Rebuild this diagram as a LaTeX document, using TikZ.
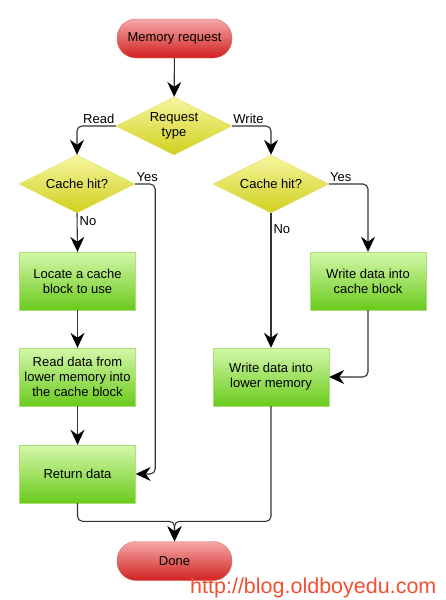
\documentclass[tikz,border=0pt]{standalone}
\usepackage{fontspec}
\setmainfont{Liberation Sans}
\usetikzlibrary{arrows.meta,shapes.geometric}

\definecolor{redtop}{RGB}{245,168,168}
\definecolor{redbot}{RGB}{210,32,32}
\definecolor{redline}{RGB}{214,110,110}
\definecolor{greentop}{RGB}{212,248,170}
\definecolor{greenbot}{RGB}{106,202,28}
\definecolor{greenline}{RGB}{170,226,120}
\definecolor{yellowtop}{RGB}{246,246,160}
\definecolor{yellowbot}{RGB}{208,208,30}
\definecolor{yellowline}{RGB}{226,226,110}
\definecolor{flowline}{RGB}{50,50,50}
\definecolor{markred}{RGB}{242,78,48}

\tikzset{
  terminal/.style={draw=redline,top color=redtop,bottom color=redbot,
    rounded corners=19pt,minimum width=115pt,minimum height=39pt,inner sep=0pt},
  process/.style={draw=greenline,top color=greentop,bottom color=greenbot,
    minimum width=116pt,minimum height=58pt,inner sep=0pt,align=center},
  decision/.style={diamond,draw=yellowline,top color=yellowtop,bottom color=yellowbot,
    minimum width=116pt,minimum height=58pt,inner sep=-6pt,aspect=2,align=center},
  flow/.style={draw=flowline,line width=1.1pt,rounded corners=5pt,
    -{Stealth[length=15pt,width=14pt,inset=5pt,black]}},
  edgelabel/.style={text=black,inner sep=2pt}
}

\begin{document}
\begin{tikzpicture}[x=1pt,y=-1pt,font=\fontsize{13}{15}\selectfont]

\useasboundingbox (0,0) rectangle (445,600);

% start and request type
\node[terminal] (req) at (174.5,38.5) {Memory request};
\node[decision] (type) at (174,126) {Request\\type};

% read side
\node[decision] (hitL) at (77,184) {Cache hit?};
\node[process] (locate) at (77.5,281) {Locate a cache\\block to use};
\node[process] (readmem) at (77.5,377) {Read data from\\lower memory into\\the cache block};
\node[process] (ret) at (77.5,474) {Return data};

% write side
\node[decision] (hitR) at (271,184) {Cache hit?};
\node[process] (wcache) at (368,281) {Write data into\\cache block};
\node[process] (wlow) at (271,377) {Write data into\\lower memory};

% end
\node[terminal] (done) at (174.5,561) {Done};
\coordinate (merge) at ([yshift=20pt]done.north);

\draw[flow] (req) -- (type);
\draw[flow] (type.west) -| node[edgelabel,above,pos=0.22] {Read} (hitL.north);
\draw[flow] (type.east) -| node[edgelabel,above,pos=0.21] {Write} (hitR.north);

\draw[flow] (hitL.east) -- node[edgelabel,above,pos=0.6] {Yes} ++(20pt,0) |- (ret.east);
\draw[flow] (hitL.south) -- node[edgelabel,right,pos=0.2] {No} (locate.north);
\draw[flow] (locate) -- (readmem);
\draw[flow] (readmem) -- (ret);

\draw[flow] (hitR.east) -| node[edgelabel,above,pos=0.15] {Yes} (wcache.north);
\draw[flow] (hitR.south) -- node[edgelabel,right,pos=0.12] {No} (wlow.north);
\draw[flow] (wcache.south) |- (wlow.east);

% both branches join above done
\draw[flow] (ret.south) |- (merge) -- (done.north);
\draw[flow] (wlow.south) |- (merge) -- (done.north);

% watermark
\node[anchor=base west,inner sep=0pt,text=markred,font=\fontsize{21.5}{24}\selectfont]
  (mark) at (190,593) {http://blog.oldboyedu.com};

\end{tikzpicture}
\end{document}
